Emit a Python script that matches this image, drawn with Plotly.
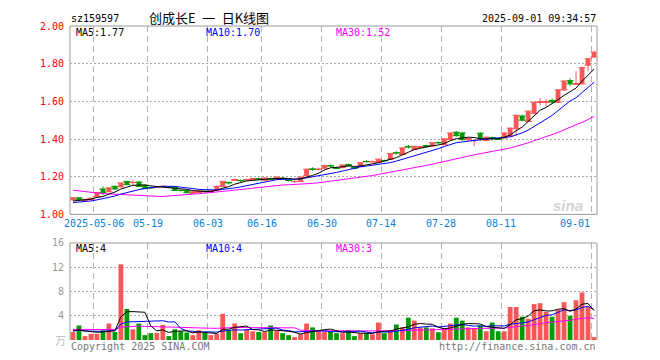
import plotly.graph_objects as go
import pandas as pd

# ---------------- data ----------------
code = "sz159597"
title = "创成长E\u2002一\u2002日K线图"
stamp = "2025-09-01 09:34:57"

first_days = ["2025-04-25", "2025-04-28", "2025-04-29", "2025-04-30"]
holidays = ["2025-06-02"]

open_ = [1.077, 1.088, 1.076, 1.080, 1.094, 1.135, 1.120, 1.149, 1.146, 1.175,
         1.169, 1.172, 1.155, 1.142, 1.143, 1.146, 1.145, 1.144, 1.128, 1.127,
         1.113, 1.118, 1.124, 1.120, 1.129, 1.149, 1.170, 1.182, 1.180, 1.183,
         1.186, 1.189, 1.181, 1.189, 1.188, 1.192, 1.182, 1.174, 1.175, 1.205,
         1.241, 1.239, 1.245, 1.258, 1.246, 1.248, 1.263, 1.248, 1.254, 1.281,
         1.279, 1.276, 1.286, 1.293, 1.327, 1.318, 1.359, 1.344, 1.357, 1.364,
         1.363, 1.381, 1.370, 1.397, 1.436, 1.432, 1.400, 1.391, 1.431, 1.392,
         1.407, 1.402, 1.405, 1.415, 1.455, 1.522, 1.493, 1.536, 1.596, 1.596,
         1.605, 1.595, 1.661, 1.710, 1.692, 1.693, 1.792, 1.835]
high = [1.092, 1.091, 1.083, 1.089, 1.118, 1.149, 1.144, 1.153, 1.170, 1.178,
        1.182, 1.175, 1.158, 1.147, 1.149, 1.153, 1.150, 1.147, 1.133, 1.130,
        1.123, 1.128, 1.126, 1.129, 1.152, 1.178, 1.172, 1.190, 1.186, 1.190,
        1.193, 1.195, 1.196, 1.194, 1.201, 1.197, 1.186, 1.180, 1.201, 1.243,
        1.250, 1.248, 1.263, 1.265, 1.250, 1.265, 1.270, 1.252, 1.277, 1.288,
        1.285, 1.296, 1.291, 1.326, 1.335, 1.356, 1.368, 1.364, 1.364, 1.369,
        1.383, 1.386, 1.404, 1.435, 1.442, 1.436, 1.405, 1.398, 1.436, 1.413,
        1.414, 1.405, 1.435, 1.461, 1.530, 1.530, 1.551, 1.598, 1.618, 1.612,
        1.615, 1.664, 1.711, 1.722, 1.760, 1.783, 1.830, 1.870]
low = [1.074, 1.076, 1.073, 1.077, 1.092, 1.103, 1.117, 1.131, 1.143, 1.155,
       1.155, 1.146, 1.134, 1.135, 1.139, 1.143, 1.139, 1.124, 1.121, 1.112,
       1.110, 1.115, 1.115, 1.117, 1.126, 1.146, 1.160, 1.177, 1.172, 1.178,
       1.181, 1.182, 1.178, 1.183, 1.185, 1.185, 1.174, 1.166, 1.172, 1.202,
       1.232, 1.233, 1.242, 1.250, 1.240, 1.245, 1.255, 1.240, 1.251, 1.274,
       1.275, 1.273, 1.280, 1.290, 1.318, 1.315, 1.348, 1.341, 1.351, 1.356,
       1.360, 1.374, 1.367, 1.394, 1.412, 1.392, 1.385, 1.361, 1.389, 1.389,
       1.392, 1.396, 1.402, 1.410, 1.415, 1.495, 1.490, 1.533, 1.578, 1.575,
       1.585, 1.590, 1.655, 1.682, 1.688, 1.690, 1.760, 1.830]
close = [1.089, 1.079, 1.080, 1.086, 1.115, 1.115, 1.141, 1.135, 1.167, 1.158,
         1.170, 1.149, 1.137, 1.141, 1.144, 1.150, 1.144, 1.127, 1.127, 1.115,
         1.120, 1.125, 1.120, 1.126, 1.149, 1.175, 1.167, 1.184, 1.179, 1.184,
         1.188, 1.188, 1.193, 1.188, 1.198, 1.191, 1.181, 1.175, 1.198, 1.240,
         1.240, 1.240, 1.260, 1.257, 1.245, 1.262, 1.262, 1.245, 1.274, 1.280,
         1.280, 1.293, 1.285, 1.323, 1.326, 1.353, 1.358, 1.361, 1.358, 1.363,
         1.380, 1.380, 1.401, 1.432, 1.418, 1.397, 1.401, 1.392, 1.401, 1.410,
         1.406, 1.400, 1.432, 1.458, 1.526, 1.500, 1.548, 1.595, 1.597, 1.597,
         1.597, 1.661, 1.708, 1.693, 1.693, 1.780, 1.826, 1.861]
volume = [1.33, 2.40, 0.64, 1.01, 1.01, 1.60, 2.72, 1.33, 12.48, 5.12,
          1.76, 2.72, 0.80, 1.12, 1.17, 2.50, 0.64, 1.76, 1.44, 1.23,
          0.80, 1.60, 1.17, 0.80, 1.01, 4.32, 1.60, 2.72, 1.12, 1.76,
          1.44, 1.33, 1.33, 2.40, 1.55, 1.12, 0.80, 0.48, 0.96, 2.72,
          2.08, 1.44, 1.39, 1.33, 1.12, 1.12, 1.60, 0.64, 1.12, 1.12,
          0.96, 2.88, 1.12, 1.44, 2.56, 2.08, 3.68, 3.20, 2.08, 2.08,
          1.92, 1.28, 1.92, 2.72, 3.68, 3.20, 2.08, 1.92, 2.40, 1.44,
          2.88, 1.44, 1.44, 5.44, 5.44, 3.84, 3.52, 5.92, 6.08, 4.64,
          3.84, 4.96, 6.24, 4.00, 6.56, 7.84, 5.44, 0.48]

# sessions before the visible window (only feed the moving averages)
prior_close = [1.22, 1.21, 1.20, 1.19, 1.21, 1.20, 1.18, 1.19, 1.20, 1.21,
               1.20, 1.19, 1.20, 1.21, 1.19, 1.04, 1.03, 1.06, 1.05, 1.06,
               1.06, 1.05, 1.05, 1.06, 1.054, 1.06, 1.07, 1.066, 1.07]
prior_volume = [1.5, 1.7, 1.4, 1.6, 1.8, 1.5, 1.6, 1.7, 1.4, 1.6,
                1.5, 1.9, 1.6, 1.7, 1.6, 3.8, 3.2, 2.6, 2.2, 1.9,
                1.4, 1.7, 1.5, 1.3, 1.6, 1.5, 1.6, 1.4, 1.67]

tick_dates = ["2025-05-06", "2025-05-19", "2025-06-03", "2025-06-16", "2025-06-30",
              "2025-07-14", "2025-07-28", "2025-08-11", "2025-09-01"]
tick_text = ["2025-05-06", "05-19", "06-03", "06-16", "06-30",
             "07-14", "07-28", "08-11", "09-01"]
price_ticks = [1.00, 1.20, 1.40, 1.60, 1.80, 2.00]
vol_ticks = [4, 8, 12, 16]
vol_ma_labels = ["MA5:4", "MA10:4", "MA30:3"]

# ---------------- helpers ----------------
dates = first_days + [d.strftime("%Y-%m-%d") for d in pd.bdate_range("2025-05-06", "2025-09-01")
                      if d.strftime("%Y-%m-%d") not in holidays]
idx = list(range(len(dates)))
n0 = len(prior_close)


def mov(series, n):
    return pd.Series(series).rolling(n).mean().tolist()[n0:]


ma_p = {k: mov(prior_close + close, k) for k in (5, 10, 30)}
ma_v = {k: mov(prior_volume + volume, k) for k in (5, 10, 30)}

UP = "#fa5656"
DN = "#009b00"
MA_COL = {5: "#000000", 10: "#0000ff", 30: "#ff00ff"}
MONO = "DejaVu Sans Mono"

cols = [UP if c >= o else DN for o, c in zip(open_, close)]

fig = go.Figure()

# wicks
for col in (UP, DN):
    xs, ys = [], []
    for i in idx:
        if cols[i] == col:
            xs += [i, i, None]
            ys += [low[i], high[i], None]
    fig.add_trace(go.Scatter(x=xs, y=ys, mode="lines", line=dict(color=col, width=1),
                             hoverinfo="skip", xaxis="x", yaxis="y"))
# bodies
fig.add_trace(go.Bar(x=idx, y=[abs(c - o) for o, c in zip(open_, close)],
                     base=[min(o, c) for o, c in zip(open_, close)], width=0.8,
                     marker=dict(color=cols, line=dict(width=0)), xaxis="x", yaxis="y"))
# cross bars for doji
fig.add_trace(go.Scatter(x=idx + idx, y=open_ + close, mode="markers",
                         marker=dict(symbol="line-ew", size=5, line=dict(color=cols + cols, width=1)),
                         xaxis="x", yaxis="y", hoverinfo="skip"))
# price MAs
for k in (30, 10, 5):
    fig.add_trace(go.Scatter(x=idx, y=ma_p[k], mode="lines", line=dict(color=MA_COL[k], width=1),
                             xaxis="x", yaxis="y"))
# volume
fig.add_trace(go.Bar(x=idx, y=volume, width=0.8, marker=dict(color=cols, line=dict(width=0)),
                     xaxis="x2", yaxis="y2"))
for k in (30, 10, 5):
    fig.add_trace(go.Scatter(x=idx, y=ma_v[k], mode="lines", line=dict(color=MA_COL[k], width=1),
                             xaxis="x2", yaxis="y2"))

grid_pos = [dates.index(d) - 0.5 for d in tick_dates]
xcommon = dict(range=[-0.5, len(idx) - 0.5], tickvals=grid_pos, showticklabels=False,
               showgrid=True, gridcolor="#b4b4b4", griddash="6px,4px", gridwidth=1,
               zeroline=False, showline=False, ticks="", fixedrange=True)

# page body has an 8px default margin: offsets below compensate for it
fig.update_layout(
    width=660, height=360, margin=dict(l=62, r=71, t=12, b=28),
    paper_bgcolor="white", plot_bgcolor="white", showlegend=False, barmode="overlay",
    xaxis=dict(domain=[0, 1], anchor="y", **xcommon),
    xaxis2=dict(domain=[0, 1], anchor="y2", matches="x", **xcommon),
    yaxis=dict(domain=[0.4, 1], range=[1.0, 2.0], tickvals=price_ticks,
               ticktext=["%.2f" % v for v in price_ticks],
               tickfont=dict(family=MONO, size=10, color="#ff0000"),
               showgrid=True, gridcolor="#aaaaaa", griddash="2px,2px", gridwidth=1,
               zeroline=False, showline=False, ticks="", ticklabelstandoff=5),
    yaxis2=dict(domain=[0, 0.309], range=[0, 16], tickvals=vol_ticks,
                ticktext=[str(v) for v in vol_ticks],
                tickfont=dict(family=MONO, size=10, color="#999999"),
                showgrid=True, gridcolor="#aaaaaa", griddash="2px,2px", gridwidth=1,
                zeroline=False, showline=False, ticks="", ticklabelstandoff=5),
)

FRAME = "#9a9a9a"
shapes = [
    dict(type="rect", xref="x domain", yref="y domain", x0=0, x1=1, y0=0, y1=1,
         line=dict(color=FRAME, width=1)),
    dict(type="line", xref="x2 domain", yref="y2 domain", x0=0, x1=1, y0=1, y1=1,
         line=dict(color=FRAME, width=1)),
    dict(type="line", xref="x2 domain", yref="y2 domain", x0=0, x1=0, y0=0, y1=1,
         line=dict(color=FRAME, width=1)),
    dict(type="line", xref="x2 domain", yref="y2 domain", x0=1, x1=1, y0=0, y1=1,
         line=dict(color=FRAME, width=1)),
]
fig.update_layout(shapes=shapes)

ann = []


def txt(text, x, y, xanchor="left", color="#000", size=10, family=MONO, xref="paper", yref="paper", **kw):
    ann.append(dict(text=text, x=x, y=y, xref=xref, yref=yref, xanchor=xanchor, yanchor="middle",
                    showarrow=False, borderpad=0, font=dict(family=family, size=size, color=color), **kw))


def py(pix):
    return (340 - pix) / 320.0


txt(code, 0, py(12.5))
txt(title, 0.264, py(11.5), xanchor="center", size=13, family="Noto Sans CJK SC")
txt(stamp, 1, py(12.5), xanchor="right")

txt("MA5:%.2f" % ma_p[5][-1], 0.009, py(27), color=MA_COL[5])
txt("MA10:%.2f" % ma_p[10][-1], 0.256, py(27), color=MA_COL[10])
txt("MA30:%.2f" % ma_p[30][-1], 0.503, py(27), color=MA_COL[30])

txt(vol_ma_labels[0], 0.009, py(247), color=MA_COL[5])
txt(vol_ma_labels[1], 0.256, py(247), color=MA_COL[10])
txt(vol_ma_labels[2], 0.503, py(247), color=MA_COL[30])

for k, (p, t) in enumerate(zip(grid_pos, tick_text)):
    last = k == len(grid_pos) - 1
    txt(t, p, py(221), xanchor="right" if last else "center", color="#0a7fe0", xref="x")

txt("万", -0.005, py(340), xanchor="right", color="#bbbbbb", size=11, family="Noto Sans CJK SC")
txt("Copyright 2025 SINA.COM", 0, py(347), color="#777777")
txt("http://finance.sina.com.cn", 1, py(347), xanchor="right", color="#777777")
txt("<i><b>sina</b></i>", 0.975, py(203), xanchor="right", color="rgba(190,190,190,0.7)",
    size=15, family="Arial")

fig.update_layout(annotations=ann)
fig.write_html("out.html")
